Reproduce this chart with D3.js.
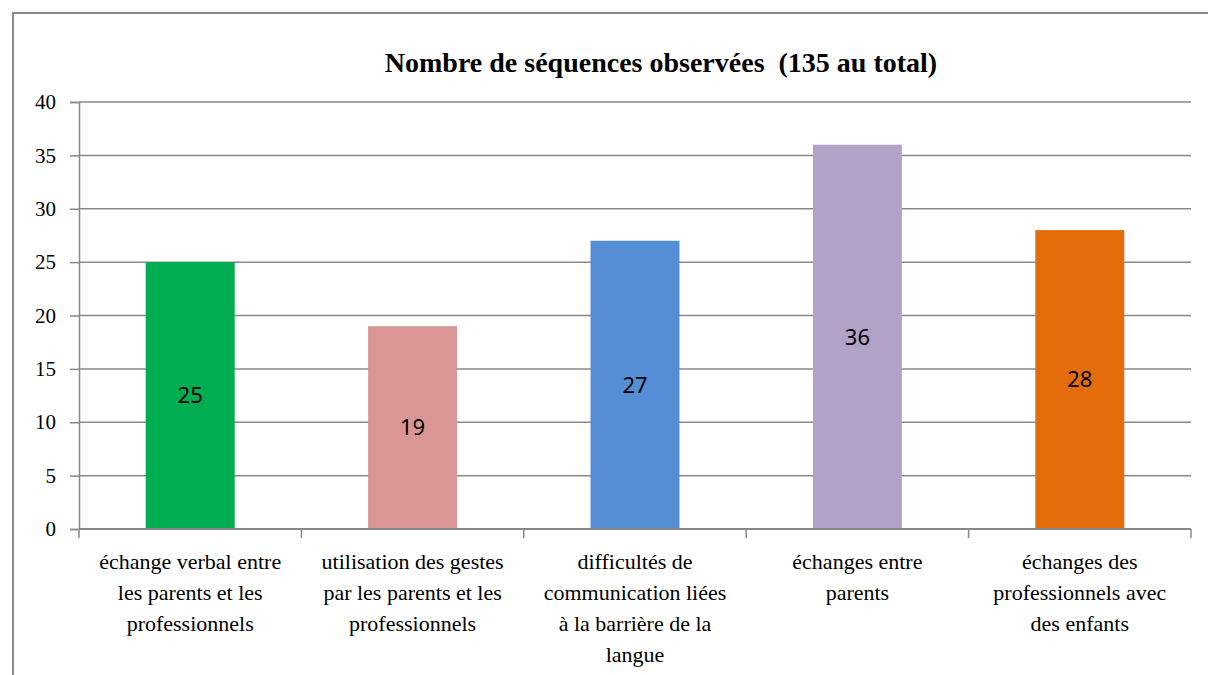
<!DOCTYPE html>
<html>
<head>
<meta charset="utf-8">
<script src="https://cdn.jsdelivr.net/npm/d3@7"></script>
<style>
  body { margin: 0; background: #fff; }
  svg { display: block; }
  .serif { font-family: "Liberation Serif", "Times New Roman", Times, "DejaVu Serif", serif; }
  .sans { font-family: "Noto Sans", "Open Sans", sans-serif; }
</style>
</head>
<body>
<svg class="chart"></svg>
<script>
const width = 1208,
  height = 675;

const title = "Nombre de séquences observées  (135 au total)";
const categories = [
  "échange verbal entre les parents et les professionnels",
  "utilisation des gestes par les parents et les professionnels",
  "difficultés de communication liées à la barrière de la langue",
  "échanges entre parents",
  "échanges des professionnels avec des enfants"
];
// wrapped the way the original shows them
const tickLines = [
  ["échange verbal entre", "les parents et les", "professionnels"],
  ["utilisation des gestes", "par les parents et les", "professionnels"],
  ["difficultés de", "communication liées", "à la barrière de la", "langue"],
  ["échanges entre", "parents"],
  ["échanges des", "professionnels avec", "des enfants"]
];
const values = [25, 19, 27, 36, 28];
const colors = ["#00AD50", "#D99694", "#558ED5", "#B3A2C7", "#E46C0A"];
const yTicks = [0, 5, 10, 15, 20, 25, 30, 35, 40];

const margin = {top: 102, right: 17, bottom: 146, left: 79};

let chart = d3.select(".chart")
  .attr("width", width)
  .attr("height", height);

// outer frame (only top and left edges show in the picture)
chart.append("path")
  .attr("d", `M13,${height} L13,13 L${width},13`)
  .attr("fill", "none")
  .attr("stroke", "#8c8c8c")
  .attr("stroke-width", 2);

let x = d3.scaleBand()
  .domain(categories)
  .range([margin.left, width - margin.right])
  .padding(0);

let y = d3.scaleLinear()
  .domain([0, 40])
  .range([height - margin.bottom, margin.top]);

// gridlines
chart.append("g")
  .selectAll("line")
  .data(yTicks.slice(1))
  .enter().append("line")
  .attr("x1", margin.left)
  .attr("x2", width - margin.right)
  .attr("y1", d => y(d))
  .attr("y2", d => y(d))
  .attr("stroke", "#888")
  .attr("stroke-width", 1.5);

// y axis
let yAxis = d3.axisLeft(y)
  .tickValues(yTicks)
  .tickSize(9)
  .tickPadding(14);
let yg = chart.append("g")
  .attr("transform", `translate(${margin.left},0)`)
  .call(yAxis);
yg.attr("font-family", null).attr("font-size", null);
yg.select(".domain").attr("stroke", "#888").attr("stroke-width", 1.5);
yg.selectAll(".tick line").attr("stroke", "#888").attr("stroke-width", 1.5);
yg.selectAll(".tick text")
  .attr("class", "serif")
  .style("font-size", "21px")
  .attr("fill", "#000");

// bars
let barW = x.bandwidth() * 0.4;
let bar = chart.append("g").selectAll("g")
  .data(categories)
  .enter().append("g");

bar.append("rect")
  .attr("x", d => x(d) + (x.bandwidth() - barW) / 2)
  .attr("width", barW)
  .attr("y", (d, i) => y(values[i]))
  .attr("height", (d, i) => y(0) - y(values[i]))
  .attr("fill", (d, i) => colors[i]);

bar.append("text")
  .attr("class", "sans")
  .attr("x", d => x(d) + x.bandwidth() / 2)
  .attr("y", (d, i) => (y(values[i]) + y(0)) / 2)
  .attr("dy", "0.35em")
  .attr("text-anchor", "middle")
  .style("font-size", "22px")
  .attr("fill", "#000")
  .text((d, i) => values[i]);

// x axis with boundary ticks
let xg = chart.append("g");
xg.append("line")
  .attr("x1", margin.left)
  .attr("x2", width - margin.right)
  .attr("y1", y(0))
  .attr("y2", y(0))
  .attr("stroke", "#888")
  .attr("stroke-width", 2);
let bounds = categories.map(d => x(d)).concat([width - margin.right]);
xg.selectAll(".bt")
  .data(bounds)
  .enter().append("line")
  .attr("x1", d => d)
  .attr("x2", d => d)
  .attr("y1", y(0))
  .attr("y2", y(0) + 9)
  .attr("stroke", "#888")
  .attr("stroke-width", 1.5);

let lab = xg.selectAll(".lab")
  .data(categories)
  .enter().append("text")
  .attr("class", "serif")
  .attr("text-anchor", "middle")
  .style("font-size", "22px")
  .attr("fill", "#000");
lab.each(function(d, i) {
  let t = d3.select(this);
  tickLines[i].forEach((line, j) => {
    t.append("tspan")
      .attr("x", x(d) + x.bandwidth() / 2)
      .attr("y", y(0) + 40 + j * 31)
      .text(line);
  });
});

// title
chart.append("text")
  .attr("class", "serif")
  .attr("x", 661)
  .attr("y", 72)
  .attr("text-anchor", "middle")
  .style("font-weight", "bold")
  .style("font-size", "28px")
  .style("white-space", "pre")
  .attr("fill", "#000")
  .text(title);
</script>
</body>
</html>
